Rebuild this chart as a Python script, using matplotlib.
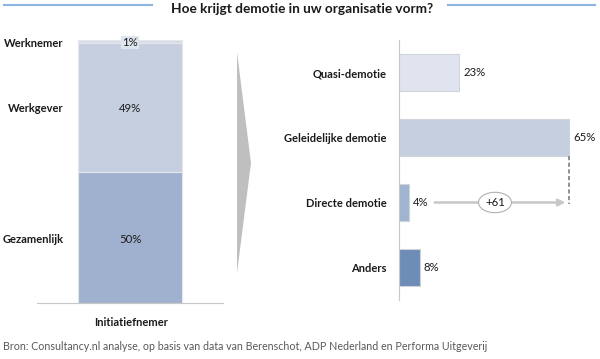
import matplotlib.pyplot as plt
from matplotlib.patches import Polygon
from matplotlib.lines import Line2D

# data
stack_labels = ['Gezamenlijk', 'Werkgever', 'Werknemer']
stack_values = [50, 49, 1]
stack_colors = ['#9fb1cf', '#c5cfe0', '#d7dce5']

vorm_labels = ['Quasi-demotie', 'Geleidelijke demotie', 'Directe demotie', 'Anders']
vorm_values = [23, 65, 4, 8]
vorm_colors = ['#dfe4ee', '#c5cfe0', '#a0b3d0', '#6e8cb8']

title = 'Hoe krijgt demotie in uw organisatie vorm?'
source = 'Bron: Consultancy.nl analyse, op basis van data van Berenschot, ADP Nederland en Performa Uitgeverij'

plt.rcParams['font.family'] = ['Lato', 'DejaVu Sans']

W, H = 600, 359
fig = plt.figure(figsize=(W / 100, H / 100), dpi=100)


def fx(px):
    return px / W


def fy(py):
    return 1 - py / H


# title with lines
fig.text(fx(302), fy(9), title, ha='center', va='center', fontsize=9.8, fontweight='bold', color='#1a1a1a')
fig.add_artist(Line2D([fx(4), fx(152)], [fy(4.5), fy(4.5)], color='#8eb4e3', lw=1.5))
fig.add_artist(Line2D([fx(448), fx(595)], [fy(4.5), fy(4.5)], color='#8eb4e3', lw=1.5))

# left: stacked bar
ax1 = fig.add_axes([fx(37), fy(303), fx(186), (303 - 40) / H])
bottom = 0
for lab, val, col in zip(stack_labels, stack_values, stack_colors):
    ax1.bar(0, val, bottom=bottom, width=1.0, color=col, edgecolor='#e4e7ec', linewidth=0.8)
    mid = bottom + val / 2
    if val > 2:
        ax1.text(0, mid - 0.7, f'{val}%', ha='center', va='center', fontsize=8.2, color='#1a1a1a')
        ly = mid - 0.7
    else:
        ax1.text(0, 99, f'{val}%', ha='center', va='center', fontsize=8.2, color='#1a1a1a',
                 bbox=dict(boxstyle='square,pad=0.1', fc='#dfe5ef', ec='none'))
        ly = 98.5
    ax1.text(-0.64, ly, lab, ha='right', va='center', fontsize=8,
             fontweight='bold', color='#1a1a1a', clip_on=False)
    bottom += val
ax1.set_xlim(-0.9, 0.9)
ax1.set_ylim(0, 100)
for s in ['left', 'right', 'top']:
    ax1.spines[s].set_visible(False)
ax1.spines['bottom'].set_color('#c8c8c8')
ax1.set_xticks([])
ax1.set_yticks([])
fig.text(fx(131), fy(322), 'Initiatiefnemer', ha='center', va='center', fontsize=8, fontweight='bold',
         color='#1a1a1a')

# chevron
fig.add_artist(Polygon([[fx(237), fy(52)], [fx(251), fy(163)], [fx(237), fy(273)]], closed=True,
                       transform=fig.transFigure, fc='#bfbfbf', ec='none'))

# right: horizontal bars
ax2 = fig.add_axes([fx(399), fy(300), fx(70 * 2.615), (300 - 40) / H])
ypos = list(range(len(vorm_labels)))
ax2.barh(ypos, vorm_values, height=0.57, color=vorm_colors, edgecolor='#cfd3da', linewidth=0.8)
for y, v in zip(ypos, vorm_values):
    ax2.text(v + 1.5, y, f'{v}%', ha='left', va='center', fontsize=8.2, color='#1a1a1a')
ax2.set_xlim(0, 70)
ax2.set_ylim(3.5, -0.5)
ax2.set_yticks(ypos)
ax2.set_yticklabels(vorm_labels, fontsize=8, fontweight='bold', color='#1a1a1a')
ax2.tick_params(axis='y', length=0, pad=9)
ax2.set_xticks([])
for s in ['right', 'top', 'bottom']:
    ax2.spines[s].set_visible(False)
ax2.spines['left'].set_color('#c8c8c8')

# difference arrow between Directe and Geleidelijke
i_dir = vorm_labels.index('Directe demotie')
i_gel = vorm_labels.index('Geleidelijke demotie')
v_dir = vorm_values[i_dir]
v_gel = vorm_values[i_gel]
ax2.annotate('', xy=(v_gel - 0.3, i_dir), xytext=(v_dir + 8.6, i_dir),
             arrowprops=dict(arrowstyle='-|>', color='#c8c8c8', lw=1.8, mutation_scale=10))
ax2.plot([v_gel, v_gel], [i_gel + 0.285, i_dir + 0.03], ls=(0, (2.5, 1.5)), color='#7f7f7f', lw=1.2,
         clip_on=False)
ax2.text(36.7, i_dir, f'+{v_gel - v_dir}', ha='center', va='center', fontsize=8.2, color='#1a1a1a',
         bbox=dict(boxstyle='ellipse,pad=0.15', fc='white', ec='#b0b0b0', lw=0.8))

fig.text(fx(3), fy(347), source, ha='left', va='center', fontsize=7.7, color='#595959')

plt.savefig('out.png', dpi=100)
